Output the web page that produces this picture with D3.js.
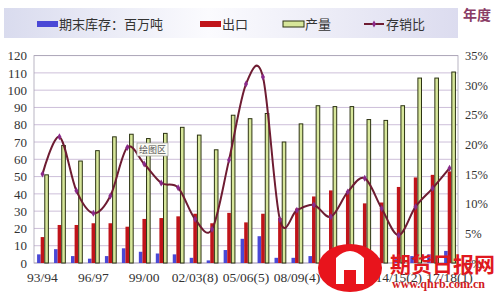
<!DOCTYPE html>
<html>
<head>
<meta charset="utf-8">
<script src="https://cdn.jsdelivr.net/npm/d3@7"></script>
<style>
  body { margin: 0; background: #fff; }
  svg { display: block; }
  .axis path, .axis line { display: none; }
</style>
</head>
<body>
<div id="chart"></div>
<script>
/*
  stock / export / production chart, with stock-to-use ratio on right axis
*/

var years = ["93/94","94/95","95/96","96/97","97/98","98/99","99/00","00/01","01/02","02/03",
             "03/04","04/05","05/06","06/07","07/08","08/09","09/10","10/11","11/12","12/13",
             "13/14","14/15","15/16","16/17","17/18"];
var tickLabels = {"93/94": "93/94", "96/97": "96/97", "99/00": "99/00", "02/03": "02/03(8)",
                  "05/06": "05/06(5)", "08/09": "08/09(4)", "11/12": "11/12(3)",
                  "14/15": "14/15(2)", "17/18": "17/18(1)"};

var stock = [5, 8, 4, 2.5, 4, 8.5, 6.5, 5.5, 5, 3, 1.5, 7.5, 14, 15.5, 3, 3, 4, 4, 5, 5, 3, 3, 4, 5, 7];
var exportVol = [15, 22, 22, 23, 23, 21, 25.5, 26, 27, 28.5, 23, 29, 23.5, 28.5, 26, 31.5, 38.5, 42, 41.5, 34.5, 35, 44, 49.5, 51, 53];
var production = [51, 68, 59, 65, 73, 74.5, 72, 75, 78.5, 74, 65.5, 85.5, 83.5, 86.5, 70, 80.5, 91, 90.5, 90.5, 83, 82.5, 91, 107, 107, 110.5];
var ratio = [15.0, 21.3, 12.2, 8.4, 11.3, 19.5, 16.7, 13.5, 12.7, 7.4, 5.7, 17.4, 30.2, 31.4, 7.3, 8.9, 9.8, 7.8, 12.0, 14.3, 9.2, 4.7, 9.5, 12.6, 16.0];

var width = 500, height = 294;
var margin = {top: 55.6, right: 42, bottom: 31, left: 34};
var plotW = width - margin.left - margin.right,
    plotH = height - margin.top - margin.bottom;

var serif = "'Liberation Serif', 'DejaVu Serif', serif";
var cjk = "'Noto Sans CJK SC', sans-serif";

var svg = d3.select("#chart").append("svg")
    .attr("width", width)
    .attr("height", height);

var defs = svg.append("defs");
var lg = defs.append("linearGradient").attr("id", "legendBg");
lg.append("stop").attr("offset", "0%").attr("stop-color", "#d9dbee");
lg.append("stop").attr("offset", "45%").attr("stop-color", "#fbfbfe");
lg.append("stop").attr("offset", "100%").attr("stop-color", "#dcdcef");

var x = d3.scaleBand().domain(years).range([0, plotW]).padding(0);
var y = d3.scaleLinear().domain([0, 120]).range([plotH, 0]);
var yRatio = d3.scaleLinear().domain([0, 35]).range([plotH, 0]);

var g = svg.append("g")
    .attr("transform", "translate(" + margin.left + "," + margin.top + ")");

// gridlines
g.append("g").selectAll("line")
    .data(y.ticks(12))
    .enter().append("line")
    .attr("x1", 0).attr("x2", plotW)
    .attr("y1", function(d) { return y(d); })
    .attr("y2", function(d) { return y(d); })
    .attr("stroke", "#cdbfd9")
    .attr("stroke-width", 1);

// plot frame
g.append("rect")
    .attr("x", 0).attr("y", 0)
    .attr("width", plotW).attr("height", plotH)
    .attr("fill", "none")
    .attr("stroke", "#a9a4b4")
    .attr("stroke-width", 0.8);

var barW = 3.6;
var centre = function(d, i) { return x(years[i]) + x.bandwidth() / 2; };

// stock bars
g.append("g").selectAll("rect")
    .data(stock)
    .enter().append("rect")
    .attr("x", function(d, i) { return centre(d, i) - barW * 1.5; })
    .attr("y", function(d) { return y(d); })
    .attr("width", barW)
    .attr("height", function(d) { return plotH - y(d); })
    .attr("fill", "#4a48d6");

// export bars
g.append("g").selectAll("rect")
    .data(exportVol)
    .enter().append("rect")
    .attr("x", function(d, i) { return centre(d, i) - barW * 0.5; })
    .attr("y", function(d) { return y(d); })
    .attr("width", barW)
    .attr("height", function(d) { return plotH - y(d); })
    .attr("fill", "#c0141a");

// production bars
g.append("g").selectAll("rect")
    .data(production)
    .enter().append("rect")
    .attr("x", function(d, i) { return centre(d, i) + barW * 0.5 + 0.5; })
    .attr("y", function(d) { return y(d); })
    .attr("width", barW)
    .attr("height", function(d) { return plotH - y(d); })
    .attr("fill", "#d7e69a")
    .attr("stroke", "#2c3312")
    .attr("stroke-width", 1);

// ratio line
var ratioLine = d3.line()
    .x(function(d, i) { return centre(d, i); })
    .y(function(d) { return yRatio(d); })
    .curve(d3.curveCatmullRom.alpha(0));

g.append("path")
    .datum(ratio)
    .attr("d", ratioLine)
    .attr("fill", "none")
    .attr("stroke", "#6e1c32")
    .attr("stroke-width", 2);

g.append("g").selectAll("path")
    .data(ratio)
    .enter().append("path")
    .attr("transform", function(d, i) { return "translate(" + centre(d, i) + "," + yRatio(d) + ")"; })
    .attr("d", d3.symbol().type(d3.symbolDiamond).size(14))
    .attr("fill", "#8a2a8a");

// axes
g.append("g")
    .attr("class", "axis")
    .attr("transform", "translate(-4,0)")
    .call(d3.axisLeft(y).ticks(12).tickSize(0))
    .selectAll("text")
    .style("font-family", serif)
    .style("font-size", "13px")
    .style("fill", "#333");

g.append("g")
    .attr("class", "axis")
    .attr("transform", "translate(" + (plotW + 4) + ",0)")
    .call(d3.axisRight(yRatio).ticks(7).tickSize(0).tickFormat(function(d) { return d + "%"; }))
    .selectAll("text")
    .style("font-family", serif)
    .style("font-size", "12.5px")
    .style("fill", "#333");

g.append("g")
    .attr("class", "axis")
    .attr("transform", "translate(0," + plotH + ")")
    .call(d3.axisBottom(x)
        .tickValues(Object.keys(tickLabels))
        .tickSize(0)
        .tickPadding(9)
        .tickFormat(function(d) { return tickLabels[d]; }))
    .selectAll("text")
    .style("font-family", serif)
    .style("font-size", "13.5px")
    .style("fill", "#333");

// excel tooltip left in the picture
var tip = svg.append("g").attr("transform", "translate(137,143)");
tip.append("rect")
    .attr("width", 31).attr("height", 13)
    .attr("fill", "#fbfbf4")
    .attr("stroke", "#9a9a9a")
    .attr("stroke-width", 0.7);
tip.append("text")
    .attr("x", 15.5).attr("y", 10)
    .attr("text-anchor", "middle")
    .style("font-family", cjk)
    .style("font-size", "9px")
    .style("fill", "#555")
    .text("绘图区");

// legend
var legend = svg.append("g");
legend.append("rect")
    .attr("x", 4).attr("y", 8)
    .attr("width", 454).attr("height", 30)
    .attr("fill", "url(#legendBg)");

var legendItems = [
  {name: "期末库存：百万吨", kind: "bar", fill: "#4a48d6", stroke: "none", x: 37},
  {name: "出口", kind: "bar", fill: "#c0141a", stroke: "none", x: 200},
  {name: "产量", kind: "bar", fill: "#d7e69a", stroke: "#2c3312", x: 283},
  {name: "存销比", kind: "line", fill: "#8a2a8a", stroke: "#6e1c32", x: 364}
];

legendItems.forEach(function(it) {
  var lgItem = legend.append("g").attr("transform", "translate(" + it.x + ",24)");
  if (it.kind === "bar") {
    lgItem.append("rect")
        .attr("x", 0).attr("y", -3)
        .attr("width", 21).attr("height", 6)
        .attr("fill", it.fill)
        .attr("stroke", it.stroke);
  } else {
    lgItem.append("line")
        .attr("x1", 0).attr("x2", 20)
        .attr("stroke", it.stroke)
        .attr("stroke-width", 2);
    lgItem.append("path")
        .attr("transform", "translate(10,0)")
        .attr("d", d3.symbol().type(d3.symbolDiamond).size(14))
        .attr("fill", it.fill);
  }
  lgItem.append("text")
      .attr("x", 22).attr("y", 5)
      .style("font-family", cjk)
      .style("font-size", "13px")
      .style("fill", "#333")
      .text(it.name);
});

svg.append("text")
    .attr("x", 463).attr("y", 20)
    .style("font-family", cjk)
    .style("font-size", "14px")
    .style("font-weight", "bold")
    .style("fill", "#8a3c66")
    .text("年度");

// watermark
var wm = svg.append("g");
wm.append("ellipse")
    .attr("cx", 350).attr("cy", 268)
    .attr("rx", 32).attr("ry", 24)
    .attr("fill", "#e8141c");
wm.append("path")
    .attr("d", "M336,284 L336,258 Q350,244 364,258 L364,284 L356,284 L356,270 L344,270 L344,284 Z")
    .attr("fill", "#fff");
wm.append("text")
    .attr("x", 390).attr("y", 272)
    .style("font-family", cjk)
    .style("font-size", "21px")
    .style("font-weight", "bold")
    .style("fill", "#e01820")
    .text("期货日报网");
wm.append("text")
    .attr("x", 392).attr("y", 288)
    .style("font-family", serif)
    .style("font-size", "12px")
    .style("font-weight", "bold")
    .style("fill", "#d01a22")
    .text("www.qhrb.com.cn");
</script>
</body>
</html>
